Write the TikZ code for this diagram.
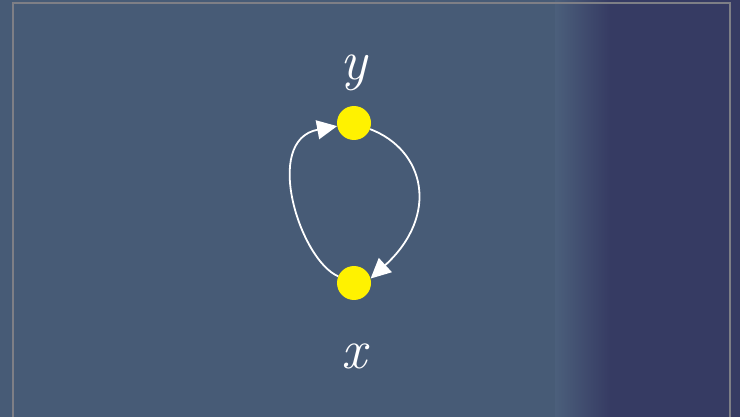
\documentclass[tikz,border=0pt]{standalone}
\usetikzlibrary{arrows.meta}
\definecolor{bgL}{HTML}{475B76}
\definecolor{bgM}{HTML}{4B5F7B}
\definecolor{bgR}{HTML}{363B63}
\definecolor{frame}{HTML}{7E7F86}
\tikzset{
  dot/.style={circle,fill=yellow,minimum size=34pt,inner sep=0pt},
  lbl/.style={text=white,font=\fontsize{56}{60}\selectfont\itshape,anchor=base,inner sep=0pt},
  arr/.style={white,line width=1.8pt,-{Triangle[length=20pt,width=19pt]}}
}
\begin{document}
\begin{tikzpicture}[x=1pt,y=-1pt]
\useasboundingbox (0,0) rectangle (740,417);
\fill[bgL] (0,0) rectangle (740,417);
\shade[left color=bgM,right color=bgR] (555,0) rectangle (610,417);
\fill[bgR] (610,0) rectangle (740,417);
\draw[frame,line width=2pt] (13,3) rectangle (730,430);
\node[dot] (y) at (354,123) {};
\node[dot] (x) at (354,283) {};
\node[lbl] (ly) at (354,80) {y};
\node[lbl] (lx) at (354,368) {x};
\draw[arr] (x) .. controls (300,260) and (262,140) .. (y);
\draw[arr] (y) .. controls (425,150) and (440,215) .. (x.15);
\end{tikzpicture}
\end{document}
